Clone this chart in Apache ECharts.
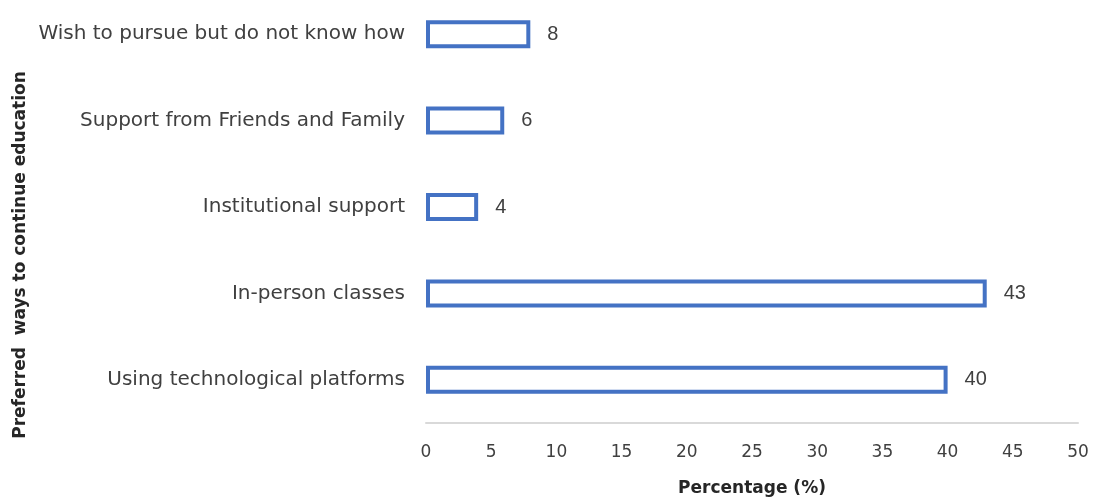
<!DOCTYPE html>
<html>
<head>
<meta charset="utf-8">
<script src="https://cdn.jsdelivr.net/npm/echarts@6/dist/echarts.min.js"></script>
<style>
  html, body { margin: 0; padding: 0; background: #fff; overflow: hidden; }
  /* the top category band runs past the top edge in the reference */
  #chart { width: 1094px; height: 511px; margin-top: -9px; }
</style>
</head>
<body>
<div id="chart"></div>
<script>
// bottom to top, as the y axis reads
const categories = [
  'Using technological platforms',
  'In-person classes',
  'Institutional support',
  'Support from Friends and Family',
  'Wish to pursue but do not know how'
];
const percentages = [40, 43, 4, 6, 8];
const xTicks = [0, 5, 10, 15, 20, 25, 30, 35, 40, 45, 50];

const chart = echarts.init(document.getElementById('chart'));

chart.setOption({
  animation: false,
  grid: { left: 426, right: 16, top: 0, bottom: 74 },
  xAxis: {
    type: 'value',
    min: xTicks[0],
    max: xTicks[xTicks.length - 1],
    interval: 5,
    name: 'Percentage (%)',
    nameLocation: 'middle',
    nameGap: 57,
    nameTextStyle: { fontFamily: 'DejaVu Sans', fontWeight: 'bold', fontSize: 17, color: '#262626' },
    axisLine: { show: true, onZero: false, lineStyle: { color: '#d9d9d9', width: 2 } },
    axisTick: { show: false },
    splitLine: { show: false },
    axisLabel: { fontFamily: 'DejaVu Sans', fontSize: 17, color: '#404040', margin: 21 }
  },
  yAxis: {
    type: 'category',
    data: categories,
    axisLine: { show: false },
    axisTick: { show: false },
    axisLabel: { fontFamily: 'DejaVu Sans', fontSize: 20, color: '#404040', margin: 21 }
  },
  // y axis title sits lower than the plot centre in the reference
  graphic: [{
    type: 'text',
    x: 21,
    y: 264,
    rotation: Math.PI / 2,
    style: {
      text: 'Preferred  ways to continue education',
      fontFamily: 'DejaVu Sans',
      fontWeight: 'bold',
      fontSize: 17,
      fill: '#262626',
      align: 'center',
      verticalAlign: 'middle'
    }
  }],
  series: [{
    type: 'bar',
    data: percentages,
    barWidth: 28,
    itemStyle: { color: '#ffffff', borderColor: '#4472c4', borderWidth: 4 },
    label: {
      show: true,
      position: 'right',
      distance: 17,
      fontFamily: 'Liberation Sans',
      fontSize: 20,
      color: '#404040'
    }
  }]
});
</script>
</body>
</html>
